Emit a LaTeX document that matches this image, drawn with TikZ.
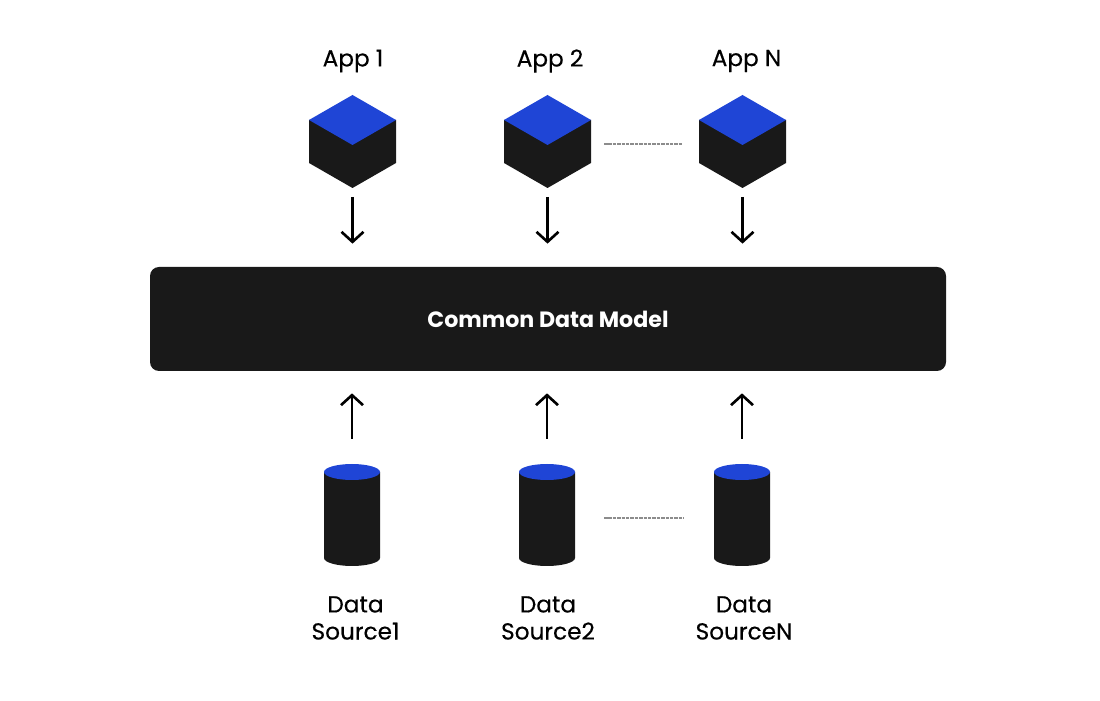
\documentclass[tikz,border=0pt]{standalone}
\usepackage{fontspec}
\setmainfont{Poppins}
\newfontfamily\capfont[RawFeature={embolden=0.35}]{Poppins}
\usetikzlibrary{arrows.meta}

\definecolor{cubeblue}{HTML}{1F45D6}
\definecolor{nearblack}{HTML}{191919}

\tikzset{
	appslot/.style={minimum width=1.74cm, minimum height=1.96cm, inner sep=0pt, outer sep=0pt},
	dbslot/.style={minimum width=1.12cm, minimum height=2.16cm, inner sep=0pt, outer sep=0pt},
	model/.style={fill=nearblack, rounded corners=.18cm, minimum width=15.92cm, minimum height=2.08cm, inner sep=0pt, text=white, font=\fontsize{12.6pt}{15pt}\selectfont\bfseries},
	caption/.style={font=\fontsize{13.2pt}{15.4pt}\capfont, align=center, inner sep=0pt},
	flow/.style={line width=1.5pt, -{Straight Barb[length=.2cm, width=.44cm]}},
	gap/.style={gray!90, line width=.6pt, dash pattern=on 2pt off .5pt}
}

% cube and cylinder, drawn round the centre of their slot
\newcommand{\appcube}[1]{
	\fill[nearblack] ([shift={(-.87,.48)}]#1.center) -- ++(0,-.86) -- ++(.87,-.5) -- ++(.87,.5) -- ++(0,.86) -- cycle;
	\fill[cubeblue] ([shift={(0,.98)}]#1.center) -- ++(.87,-.5) -- ++(-.87,-.5) -- ++(-.87,.5) -- cycle;
}
\newcommand{\dbcyl}[1]{
	\fill[nearblack] ([shift={(-.56,.92)}]#1.center) -- ++(0,-1.72) arc[start angle=180, end angle=360, x radius=.56, y radius=.16] -- ++(0,1.72) -- cycle;
	\fill[cubeblue] ([shift={(0,.92)}]#1.center) ellipse [x radius=.56, y radius=.16];
}

\begin{document}
\begin{tikzpicture}
	\useasboundingbox (0,0) rectangle (22,14);

	\node[model] (cdm) at (10.96,7.62) {Common Data Model};

	\node[appslot] (app1) at (7.05,11.12) {};
	\node[appslot] (app2) at (10.95,11.12) {};
	\node[appslot] (appN) at (14.85,11.12) {};
	\appcube{app1}
	\appcube{app2}
	\appcube{appN}

	\node[dbslot] (src1) at (7.04,3.64) {};
	\node[dbslot] (src2) at (10.94,3.64) {};
	\node[dbslot] (srcN) at (14.84,3.64) {};
	\dbcyl{src1}
	\dbcyl{src2}
	\dbcyl{srcN}

	\node[caption] (lapp1) at (7.06,12.78) {App 1};
	\node[caption] (lapp2) at (11,12.78) {App 2};
	\node[caption] (lappN) at (14.93,12.78) {App N};
	\node[caption] (lsrc1) at (7.11,1.64) {Data\hspace{.12cm}\\Source1};
	\node[caption] (lsrc2) at (10.96,1.64) {Data\hspace{.1cm}\\Source2};
	\node[caption] (lsrcN) at (14.88,1.64) {Data\hspace{.1cm}\\SourceN};

	\draw[flow, shorten <=.08cm, shorten >=.46cm] (app1.south) -- (app1.south |- cdm.north);
	\draw[flow, shorten <=.08cm, shorten >=.46cm] (app2.south) -- (app2.south |- cdm.north);
	\draw[flow, shorten <=.08cm, shorten >=.46cm] (appN.south) -- (appN.south |- cdm.north);

	\draw[flow, shorten <=.5cm, shorten >=.44cm] (src1.north) -- (src1.north |- cdm.south);
	\draw[flow, shorten <=.5cm, shorten >=.44cm] (src2.north) -- (src2.north |- cdm.south);
	\draw[flow, shorten <=.5cm, shorten >=.44cm] (srcN.north) -- (srcN.north |- cdm.south);

	\draw[gap, shorten <=.26cm, shorten >=.32cm] (app2) -- (appN);
	\draw[gap, shorten <=.58cm, shorten >=.6cm] (src2) -- (srcN);
\end{tikzpicture}
\end{document}
